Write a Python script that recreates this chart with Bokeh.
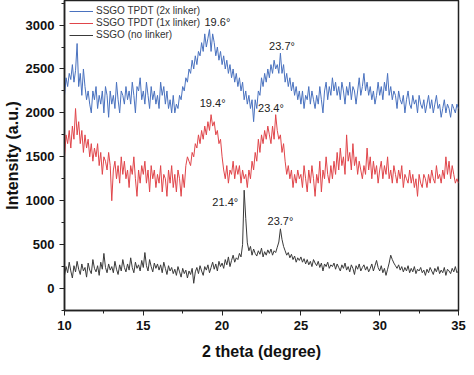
from bokeh.plotting import figure
from bokeh.models import SingleIntervalTicker, Range1d, Legend, LegendItem, ColumnDataSource
from bokeh.core.properties import value
from bokeh.embed import file_html
from bokeh.resources import INLINE

# 2 theta grid, 10.0 .. 35.0 step 0.1
two_theta = [round(10 + i * 0.1, 1) for i in range(251)]

blue_2x = [
    2200, 2400, 2300, 2450, 2380, 2550, 2350, 2480, 2790, 2300,
    2450, 2200, 2500, 2300, 2150, 2250, 2100, 2000, 2250, 2150,
    2300, 2050, 2200, 2100, 2250, 2000, 2300, 2200, 1950, 2250,
    2100, 2200, 2050, 2350, 2150, 2000, 2250, 2200, 2100, 2300,
    2150, 2250, 2100, 2350, 2200, 2000, 2300, 2250, 2400, 2150,
    2250, 2100, 2350, 2200, 2050, 2300, 2150, 2250, 2100, 2200,
    2050, 2350, 2200, 2300, 2100, 2250, 2050, 2150, 2000, 2200,
    2000, 2100, 2050, 2200, 2150, 2300, 2250, 2400, 2350, 2500,
    2450, 2600, 2500, 2650, 2550, 2700, 2650, 2800, 2700, 2900,
    2750, 2850, 2950, 2700, 2900, 2800, 2650, 2750, 2600, 2700,
    2550, 2650, 2500, 2600, 2450, 2550, 2400, 2500, 2350, 2450,
    2300, 2400, 2250, 2350, 2150, 2250, 2100, 2200, 2050, 2150,
    1900, 2150, 2050, 2250, 2200, 2400, 2300, 2450, 2350, 2500,
    2400, 2550, 2450, 2600, 2500, 2550, 2450, 2680, 2450, 2550,
    2350, 2450, 2300, 2400, 2250, 2350, 2200, 2300, 2150, 2250,
    2100, 2250, 2050, 2200, 2150, 2300, 2100, 2250, 2150, 2050,
    2200, 2100, 2300, 2150, 2000, 2250, 2350, 2150, 2300, 2200,
    2400, 2250, 2350, 2200, 2300, 2150, 2350, 2250, 2100, 2300,
    2200, 2350, 2150, 2300, 2250, 2100, 2250, 2400, 2200, 2300,
    2450, 2250, 2350, 2200, 2300, 2150, 2250, 2100, 2200, 2350,
    2200, 2300, 2150, 2350, 2250, 2450, 2200, 2300, 2150, 2250,
    2200, 2050, 2250, 2150, 2100, 2200, 2000, 2150, 2250, 2100,
    2050, 2200, 2100, 2150, 2000, 2200, 2100, 2050, 2150, 2000,
    2100, 2200, 2050, 2150, 2000, 2100, 2200, 2050, 2100, 1950,
    2050, 2150, 2000, 2100, 2050, 1950, 2100, 2050, 2000, 2100,
    2050,
]

red_1x = [
    1500, 1750, 1650, 1800, 1600, 1850, 1700, 2050, 1750, 1900,
    1650, 1800, 1550, 1750, 1600, 1700, 1500, 1650, 1450, 1600,
    1500, 1650, 1400, 1550, 1300, 1500, 1450, 1350, 1550, 1400,
    1000, 1350, 1450, 1250, 1400, 1200, 1500, 1300, 1450, 1250,
    1350, 1150, 1400, 1300, 1500, 1250, 1050, 1350, 1200, 1400,
    1300, 1450, 1200, 1350, 1100, 1400, 1250, 1350, 1150, 1300,
    1200, 1400, 1100, 1300, 1250, 1050, 1350, 1200, 1400, 1150,
    1300, 1100, 1350, 1250, 1050, 1300, 1150, 1400, 1500, 1450,
    1400, 1550, 1500, 1650, 1600, 1750, 1650, 1800, 1700, 1850,
    1750, 1900, 1800, 1980, 1850, 1900, 1750, 1800, 1650, 1700,
    1500, 1350, 1250, 1400, 1200, 1350, 1300, 1450, 1250, 1400,
    1300, 1400, 1200, 1350, 1250, 1300, 1150, 1350, 1250, 1450,
    1350, 1550, 1450, 1700, 1550, 1750, 1650, 1800, 1700, 1850,
    1750, 1650, 1850, 1700, 1980, 1800, 1700, 1750, 1550, 1650,
    1450, 1300, 1400, 1250, 1350, 1150, 1300, 1200, 1350, 1250,
    1300, 1150, 1400, 1250, 1100, 1350, 1200, 1400, 1250, 1050,
    1300, 1200, 1450, 1100, 1350, 1250, 1500, 1300, 1200, 1400,
    1250, 1450, 1300, 1550, 1350, 1600, 1400, 1500, 1300, 1750,
    1450, 1550, 1350, 1650, 1400, 1500, 1300, 1450, 1350, 1250,
    1400, 1300, 1600, 1350, 1500, 1250, 1450, 1300, 1400, 1200,
    1350, 1450, 1250, 1400, 1300, 1500, 1250, 1350, 1200, 1400,
    1300, 1200, 1350, 1250, 1400, 1150, 1300, 1250, 1200, 1350,
    1200, 1300, 1150, 1250, 1050, 1300, 1200, 1150, 1300, 1250,
    1150, 1300, 1200, 1350, 1250, 1200, 1400, 1250, 1300, 1200,
    1350, 1250, 1500, 1300, 1450, 1250, 1400, 1300, 1200, 1250,
    1200,
]

black_none = [
    150, 250, 180, 300, 200, 120, 260, 190, 310, 220,
    160, 280, 200, 240, 130, 290, 210, 170, 330, 230,
    190, 260, 150, 300, 220, 400, 240, 180, 280, 210,
    250, 180, 310, 220, 160, 270, 200, 330, 240, 190,
    280, 210, 350, 240, 180, 300, 230, 270, 200, 320,
    240, 410, 260, 200, 330, 250, 190, 290, 230, 280,
    210, 270, 180, 300, 230, 160, 260, 200, 240, 170,
    220, 150, 250, 190, 130, 230, 170, 210, 120, 200,
    160, 230, 60, 190, 240, 170, 260, 200, 150, 250,
    210, 270, 180, 240, 300, 220, 280, 200, 310, 250,
    290, 230, 330, 270, 360, 250, 320, 380, 300, 350,
    330, 400, 360, 500, 1120, 800, 520, 430, 480, 380,
    450, 400, 370, 430, 390, 460, 360, 420, 380, 440,
    400, 450, 380, 430, 410, 470, 530, 680, 560, 480,
    430, 380, 410, 350, 390, 330, 370, 300, 350, 320,
    360, 300, 340, 280, 330, 270, 310, 250, 330, 290,
    260, 310, 240, 290, 200, 280, 250, 300, 230, 270,
    250, 290, 220, 280, 240, 200, 270, 230, 290, 210,
    250, 190, 270, 230, 160, 260, 220, 280, 200, 240,
    270, 210, 250, 190, 230, 280, 200, 260, 320, 240,
    200, 260, 180, 230, 150, 220, 290, 380, 330, 290,
    260, 230, 270, 210, 250, 190, 240, 200, 260, 180,
    230, 190, 250, 170, 220, 200, 240, 180, 210, 150,
    220, 180, 240, 200, 160, 230, 190, 250, 170, 210,
    180, 240, 150, 220, 200, 170, 230, 190, 250, 180,
    200,
]

series_names = ["SSGO TPDT (2x linker)", "SSGO TPDT (1x linker)", "SSGO (no linker)"]
series_colors = ["#4a72bf", "#e0454a", "#3a3a3a"]

peak_labels = ["19.6°", "23.7°", "19.4°", "23.4°", "21.4°", "23.7°"]
peak_x = [19.7, 23.8, 19.4, 23.1, 20.2, 23.7]
peak_y = [3040, 2760, 2110, 2060, 980, 770]

FONT = "Liberation Sans"

p = figure(width=466, height=367, output_backend="svg", toolbar_location=None,
           x_range=Range1d(10, 35), y_range=Range1d(-250, 3280),
           min_border_left=59, min_border_right=8, min_border_top=0, min_border_bottom=57)

p.xgrid.visible = False
p.ygrid.visible = False
p.outline_line_color = "#222222"
p.outline_line_width = 1.5

renderers = []
for ys, c in zip([blue_2x, red_1x, black_none], series_colors):
    r = p.line(two_theta, ys, line_color=c, line_width=1)
    renderers.append(r)

src = ColumnDataSource(dict(x=peak_x, y=peak_y, t=peak_labels))
p.text(x="x", y="y", text="t", source=src, text_font=value(FONT), text_font_size="11px",
       text_align="center", text_baseline="middle", text_color="#222222")

items = [LegendItem(label=n, renderers=[r]) for n, r in zip(series_names, renderers)]
legend = Legend(items=items, location="top_left", border_line_alpha=0, background_fill_alpha=0,
                label_text_font=FONT, label_text_font_size="10px", label_text_color="#333333",
                glyph_width=24, glyph_height=10, label_height=10, spacing=1,
                padding=2, margin=3, label_standoff=3)
p.add_layout(legend)

for ax in (p.xaxis, p.yaxis):
    ax.axis_line_width = 1.5
    ax.axis_line_color = "#222222"
    ax.major_tick_line_color = "#222222"
    ax.minor_tick_line_color = "#222222"
    ax.major_tick_out = 5
    ax.major_tick_in = 0
    ax.minor_tick_out = 3
    ax.minor_tick_in = 0
    ax.major_label_text_font = FONT
    ax.major_label_text_font_style = "bold"
    ax.major_label_text_font_size = "13px"
    ax.major_label_text_color = "#111111"
    ax.axis_label_text_font = FONT
    ax.axis_label_text_font_style = "bold"
    ax.axis_label_text_font_size = "16px"
    ax.axis_label_text_color = "#111111"

p.xaxis.ticker = SingleIntervalTicker(interval=5, num_minor_ticks=2)
p.yaxis.ticker = SingleIntervalTicker(interval=500, num_minor_ticks=2)
p.xaxis.axis_label = "2 theta (degree)"
p.yaxis.axis_label = "Intensity (a.u.)"
p.xaxis.major_label_standoff = 5
p.yaxis.major_label_standoff = 5
p.xaxis.axis_label_standoff = 10
p.yaxis.axis_label_standoff = 2

open("out.html", "w").write(file_html(p, INLINE))
